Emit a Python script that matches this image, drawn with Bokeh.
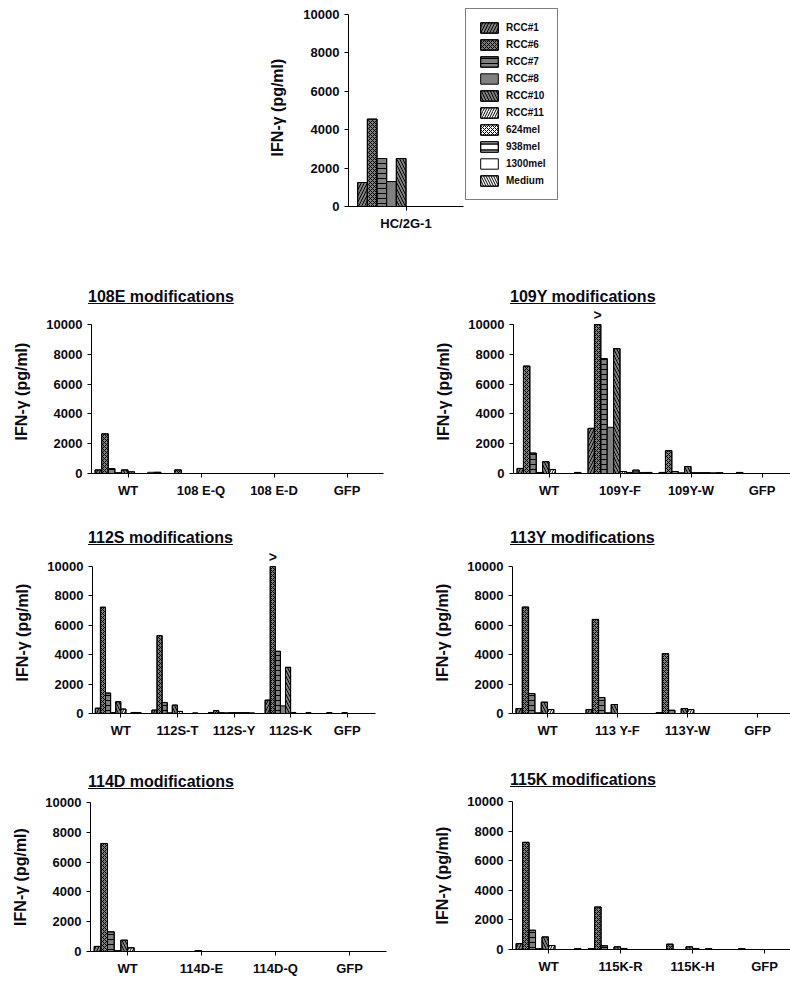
from bokeh.plotting import figure
from bokeh.models import (Range1d, FixedTicker, ColumnDataSource, Legend, LegendItem, Div)
from bokeh.layouts import column, row
from bokeh.transform import dodge
from bokeh.core.properties import value
from bokeh.embed import file_html
from bokeh.resources import INLINE

# ---------------- data ----------------
SERIES = ["RCC#1", "RCC#6", "RCC#7", "RCC#8", "RCC#10", "RCC#11",
          "624mel", "938mel", "1300mel", "Medium"]
Y_TICKS = [0, 2000, 4000, 6000, 8000, 10000]
Y_LABEL = "IFN-\u03b3 (pg/ml)"

HC_CATS = ["HC/2G-1"]
HC_2G1 = [1250, 4550, 2500, 1300, 2500, 0, 0, 0, 0, 0]
HC_VALUES = [HC_2G1]

E108_TITLE = "108E modifications"
E108_CATS = ["WT", "108 E-Q", "108 E-D", "GFP"]
E108_WT = [240, 2660, 330, 60, 240, 110, 0, 0, 80, 80]
E108_EQ = [0, 240, 0, 0, 0, 0, 0, 0, 0, 0]
E108_ED = [0, 0, 0, 0, 0, 0, 0, 0, 0, 0]
E108_GFP = [0, 0, 0, 0, 0, 0, 0, 0, 0, 0]
E108_VALUES = [E108_WT, E108_EQ, E108_ED, E108_GFP]
E108_CAPPED = []

Y109_TITLE = "109Y modifications"
Y109_CATS = ["WT", "109Y-F", "109Y-W", "GFP"]
Y109_WT = [340, 7210, 1370, 70, 790, 270, 0, 0, 0, 70]
Y109_F = [3030, 10000, 7710, 3100, 8380, 135, 70, 225, 70, 70]
Y109_W = [70, 1530, 135, 50, 470, 50, 50, 50, 50, 50]
Y109_GFP = [0, 70, 0, 0, 0, 0, 0, 0, 0, 0]
Y109_VALUES = [Y109_WT, Y109_F, Y109_W, Y109_GFP]
Y109_CAPPED = [("109Y-F", "RCC#6")]

S112_TITLE = "112S modifications"
S112_CATS = ["WT", "112S-T", "112S-Y", "112S-K", "GFP"]
S112_WT = [360, 7230, 1390, 70, 800, 300, 0, 70, 70, 0]
S112_T = [230, 5300, 750, 50, 570, 140, 0, 0, 50, 0]
S112_Y = [70, 200, 50, 50, 50, 50, 50, 50, 50, 0]
S112_K = [910, 10000, 4230, 520, 3140, 70, 0, 0, 70, 0]
S112_GFP = [0, 60, 0, 0, 60, 0, 0, 0, 0, 0]
S112_VALUES = [S112_WT, S112_T, S112_Y, S112_K, S112_GFP]
S112_CAPPED = [("112S-K", "RCC#6")]

Y113_TITLE = "113Y modifications"
Y113_CATS = ["WT", "113 Y-F", "113Y-W", "GFP"]
Y113_WT = [340, 7240, 1360, 50, 770, 270, 0, 0, 0, 0]
Y113_F = [270, 6400, 1090, 50, 610, 0, 0, 0, 0, 0]
Y113_W = [50, 4070, 220, 0, 340, 270, 0, 0, 0, 0]
Y113_GFP = [0, 0, 0, 0, 0, 0, 0, 0, 0, 0]
Y113_VALUES = [Y113_WT, Y113_F, Y113_W, Y113_GFP]
Y113_CAPPED = []

D114_TITLE = "114D modifications"
D114_CATS = ["WT", "114D-E", "114D-Q", "GFP"]
D114_WT = [340, 7250, 1320, 60, 760, 250, 0, 0, 0, 0]
D114_E = [0, 0, 0, 0, 50, 0, 0, 0, 0, 0]
D114_Q = [0, 0, 0, 0, 0, 0, 0, 0, 0, 0]
D114_GFP = [0, 0, 0, 0, 0, 0, 0, 0, 0, 0]
D114_VALUES = [D114_WT, D114_E, D114_Q, D114_GFP]
D114_CAPPED = []

K115_TITLE = "115K modifications"
K115_CATS = ["WT", "115K-R", "115K-H", "GFP"]
K115_WT = [400, 7240, 1300, 60, 850, 270, 0, 0, 0, 50]
K115_R = [50, 2870, 250, 0, 180, 70, 0, 0, 0, 0]
K115_H = [0, 360, 0, 0, 180, 70, 0, 50, 0, 0]
K115_GFP = [0, 60, 0, 0, 0, 0, 0, 0, 0, 0]
K115_VALUES = [K115_WT, K115_R, K115_H, K115_GFP]
K115_CAPPED = []

# ---------------- styles ----------------
FONT = "Liberation Sans"
TXT = "#0a0a14"
GRAY = "#808080"
SERIES_STYLE = [
    dict(fill=GRAY, hatch="/", scale=6.0, weight=1.0),
    dict(fill=GRAY, hatch="x", scale=4.0, weight=1.0),
    dict(fill=GRAY, hatch="-", scale=5.0, weight=1.0),
    dict(fill=GRAY, hatch=None, scale=5.0, weight=1.0),
    dict(fill=GRAY, hatch="\\", scale=6.0, weight=1.0),
    dict(fill="white", hatch="/", scale=5.0, weight=1.0),
    dict(fill="white", hatch="x", scale=4.0, weight=1.0),
    dict(fill="white", hatch="-", scale=6.0, weight=1.5),
    dict(fill="white", hatch=None, scale=5.0, weight=1.0),
    dict(fill="white", hatch="\\", scale=5.0, weight=1.0),
]


def make_panel(cats, values, capped, width, left, right, top, frame_h, bottom,
               cat_px, bw, label_standoff, y_end):
    frame_w = width - left - right
    height = top + frame_h + bottom
    p = figure(width=width, height=height,
               min_border_left=left, min_border_right=right,
               min_border_top=top, min_border_bottom=bottom,
               x_range=Range1d(0, frame_w / cat_px), y_range=Range1d(0, y_end),
               output_backend="svg", toolbar_location=None, tools="")
    centers = [k + 0.5 for k in range(len(cats))]
    renderers = []
    for i, name in enumerate(SERIES):
        st = SERIES_STYLE[i]
        src = ColumnDataSource(dict(x=centers, top=[vals[i] for vals in values]))
        xspec = dodge("x", (i - 4.5) * bw)
        base = p.vbar(x=xspec, top="top", width=bw, source=src,
                      fill_color=st["fill"], line_color="black", line_width=1)
        rs = [base]
        if st["hatch"]:
            h = p.vbar(x=xspec, top="top", width=bw, source=src,
                       fill_color=None, line_color="black", line_width=1,
                       hatch_pattern=st["hatch"], hatch_color="black",
                       hatch_scale=st["scale"], hatch_weight=st["weight"])
            rs.append(h)
        renderers.append(rs)
    if capped:
        xs, ys, ts = [], [], []
        for cat, ser in capped:
            ci = cats.index(cat)
            si = SERIES.index(ser)
            xs.append(centers[ci] + (si - 4.5) * bw)
            ys.append(values[ci][si])
            ts.append(">")
        p.text(x="x", y="y", text="t", source=ColumnDataSource(dict(x=xs, y=ys, t=ts)),
               text_align="center", text_baseline="bottom", y_offset=-2,
               text_font=value(FONT), text_font_style="bold",
               text_font_size="14px", text_color=TXT)

    for ax in (p.xaxis[0], p.yaxis[0]):
        ax.axis_line_color = "black"
        ax.axis_line_width = 1
        ax.major_tick_line_color = "black"
        ax.major_tick_in = 0
        ax.major_tick_out = 4
        ax.minor_tick_line_color = None
        ax.major_label_text_font = FONT
        ax.major_label_text_font_style = "bold"
        ax.major_label_text_font_size = "13px"
        ax.major_label_text_color = TXT
    p.xaxis.ticker = FixedTicker(ticks=centers)
    p.xaxis.major_label_overrides = dict(zip(centers, cats))
    p.xaxis.major_label_standoff = 5
    p.yaxis.ticker = FixedTicker(ticks=Y_TICKS)
    p.yaxis.bounds = (0, 10000)
    p.yaxis.major_label_standoff = 5
    p.yaxis.axis_label = Y_LABEL
    p.yaxis.axis_label_text_font = FONT
    p.yaxis.axis_label_text_font_style = "bold"
    p.yaxis.axis_label_text_font_size = "16px"
    p.yaxis.axis_label_text_color = TXT
    p.yaxis.axis_label_standoff = label_standoff
    p.xgrid.visible = False
    p.ygrid.visible = False
    p.outline_line_color = None
    p.background_fill_color = "white"
    p.border_fill_color = "white"
    return p, renderers


def titled(title, fig, width, div_h, pad_top, pad_left):
    html = ('<div style="padding-left:%dpx;padding-top:%dpx;'
            'font:bold 16px/18px \'Liberation Sans\',Arial,sans-serif;'
            'text-decoration:underline;color:#0a0a14;white-space:nowrap;">%s</div>'
            % (pad_left, pad_top, title))
    d = Div(text=html, width=width, height=div_h, margin=0)
    return column(d, fig, spacing=0, margin=0)


# ---------------- top chart with legend ----------------
# frame spans x 348..565 (axis line drawn only over the one category, 115 px);
# frame 198 px tall, 10000 lies 192 px above the zero line
top_fig, top_r = make_panel(HC_CATS, HC_VALUES, [], width=790, left=348, right=225,
                            top=8, frame_h=198, bottom=52, cat_px=115, bw=0.084,
                            label_standoff=14, y_end=10000 * 198 / 192)
top_fig.xaxis.bounds = (0, len(HC_CATS))
legend = Legend(items=[LegendItem(label=s, renderers=rs) for s, rs in zip(SERIES, top_r)],
                location=(117, 6), orientation="vertical",
                border_line_color="black", border_line_width=1,
                background_fill_color="white", background_fill_alpha=1,
                padding=12, spacing=4, margin=0,
                glyph_width=22, glyph_height=13, label_height=13,
                label_standoff=6, label_text_font=FONT, label_text_font_style="bold",
                label_text_font_size="10px", label_text_color=TXT)
top_fig.add_layout(legend, "center")

# ---------------- grid of modification panels ----------------
LW, RW = 428, 362

p108, _ = make_panel(E108_CATS, E108_VALUES, E108_CAPPED, width=LW, left=91,
                     right=LW - 91 - 4 * 73, top=3, frame_h=164, bottom=35,
                     cat_px=73, bw=0.09, label_standoff=13, y_end=10000 * 164 / 149)
p109, _ = make_panel(Y109_CATS, Y109_VALUES, Y109_CAPPED, width=RW, left=85, right=0,
                     top=3, frame_h=164, bottom=35, cat_px=71, bw=0.09,
                     label_standoff=13, y_end=10000 * 164 / 149)
p112, _ = make_panel(S112_CATS, S112_VALUES, S112_CAPPED, width=LW, left=92,
                     right=LW - 92 - 283, top=4, frame_h=162, bottom=37,
                     cat_px=56.6, bw=0.09, label_standoff=13, y_end=10000 * 162 / 147)
p113, _ = make_panel(Y113_CATS, Y113_VALUES, Y113_CAPPED, width=RW, left=84, right=0,
                     top=4, frame_h=162, bottom=37, cat_px=70, bw=0.09,
                     label_standoff=13, y_end=10000 * 162 / 147)
p114, _ = make_panel(D114_CATS, D114_VALUES, D114_CAPPED, width=LW, left=90,
                     right=LW - 90 - 4 * 74, top=11, frame_h=149, bottom=31,
                     cat_px=74, bw=0.09, label_standoff=13, y_end=10000)
p115, _ = make_panel(K115_CATS, K115_VALUES, K115_CAPPED, width=RW, left=84, right=0,
                     top=12, frame_h=148, bottom=33, cat_px=72, bw=0.09,
                     label_standoff=13, y_end=10000)

row2 = row(titled(E108_TITLE, p108, LW, 48, 30, 88),
           titled(Y109_TITLE, p109, RW, 48, 30, 82), spacing=0, margin=0)
row3 = row(titled(S112_TITLE, p112, LW, 39, 21, 88),
           titled(Y113_TITLE, p113, RW, 39, 21, 82), spacing=0, margin=0)
row4 = row(titled(D114_TITLE, p114, LW, 41, 23, 88),
           titled(K115_TITLE, p115, RW, 39, 21, 82), spacing=0, margin=0)

layout = column(top_fig, row2, row3, row4, spacing=0, margin=0)

open("out.html", "w").write(file_html(layout, INLINE))
